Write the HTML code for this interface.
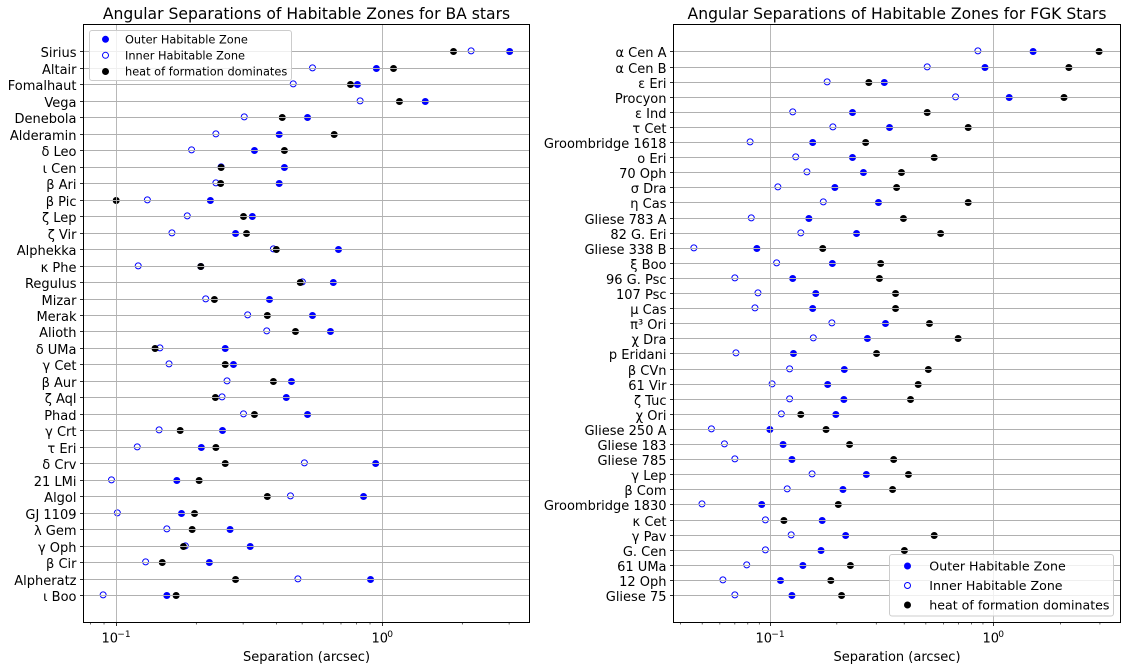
<!DOCTYPE html>
<html lang="en">
<head>
<meta charset="utf-8">
<title>Angular Separations of Habitable Zones</title>
<style>
html,body{margin:0;padding:0;background:#fff;width:1126px;height:670px;overflow:hidden}
svg{display:block}
text{font-family:"DejaVu Sans","Liberation Sans","Noto Sans CJK SC",sans-serif;fill:#000}
</style>
</head>
<body>
<svg id="fig" xmlns="http://www.w3.org/2000/svg" width="1126" height="670" viewBox="0 0 1126 670">
<rect width="1126" height="670" fill="#fff"/>
<g id="panelA"></g>
<g id="panelB"></g>
</svg>
<script>
const baStars = ["Sirius","Altair","Fomalhaut","Vega","Denebola","Alderamin","δ Leo","ι Cen","β Ari","β Pic","ζ Lep","ζ Vir","Alphekka","κ Phe","Regulus","Mizar","Merak","Alioth","δ UMa","γ Cet","β Aur","ζ Aql","Phad","γ Crt","τ Eri","δ Crv","21 LMi","Algol","GJ 1109","λ Gem","γ Oph","β Cir","Alpheratz","ι Boo"];
const baOuter = [3.015,0.951,0.807,1.452,0.524,0.410,0.331,0.429,0.410,0.226,0.325,0.281,0.685,0.208,0.655,0.377,0.547,0.639,0.257,0.276,0.456,0.436,0.524,0.251,0.209,0.945,0.169,0.851,0.176,0.268,0.319,0.224,0.904,0.155];
const baInner = [2.159,0.547,0.463,0.826,0.303,0.237,0.192,0.248,0.237,0.131,0.185,0.162,0.390,0.121,0.501,0.217,0.312,0.368,0.146,0.158,0.261,0.250,0.301,0.145,0.120,0.510,0.096,0.452,0.101,0.155,0.182,0.129,0.482,0.0893];
const baHeat = [1.854,1.103,0.760,1.161,0.421,0.660,0.429,0.248,0.247,0.100,0.301,0.309,0.400,0.208,0.492,0.234,0.370,0.472,0.140,0.257,0.390,0.236,0.331,0.174,0.237,0.257,0.205,0.370,0.197,0.193,0.179,0.149,0.281,0.168];

const fgkStars = ["α Cen A","α Cen B","ε Eri","Procyon","ε Ind","τ Cet","Groombridge 1618","ο Eri","70 Oph","σ Dra","η Cas","Gliese 783 A","82 G. Eri","Gliese 338 B","ξ Boo","96 G. Psc","107 Psc","μ Cas","π³ Ori","χ Dra","p Eridani","β CVn","61 Vir","ζ Tuc","χ Ori","Gliese 250 A","Gliese 183","Gliese 785","γ Lep","β Com","Groombridge 1830","κ Cet","γ Pav","G. Cen","61 UMa","12 Oph","Gliese 75"];
const fgkOuter = [1.508,0.919,0.326,1.179,0.235,0.344,0.156,0.235,0.263,0.196,0.307,0.150,0.245,0.0878,0.191,0.127,0.161,0.156,0.330,0.274,0.128,0.216,0.182,0.215,0.198,0.1004,0.115,0.126,0.271,0.213,0.0923,0.172,0.219,0.170,0.141,0.112,0.126];
const fgkInner = [0.854,0.507,0.181,0.679,0.127,0.192,0.0819,0.131,0.147,0.109,0.174,0.0829,0.138,0.0459,0.1076,0.0700,0.0888,0.0861,0.190,0.157,0.0708,0.123,0.1027,0.123,0.113,0.0550,0.0629,0.0700,0.155,0.120,0.0499,0.0959,0.125,0.0959,0.0791,0.0619,0.0700];
const fgkHeat = [2.974,2.179,0.278,2.073,0.507,0.773,0.269,0.545,0.389,0.370,0.773,0.397,0.582,0.173,0.314,0.310,0.366,0.366,0.519,0.697,0.301,0.513,0.462,0.427,0.138,0.179,0.228,0.359,0.418,0.355,0.203,0.116,0.545,0.401,0.230,0.188,0.210];

const seriesLabels = ["Outer Habitable Zone","Inner Habitable Zone","heat of formation dominates"];
const majorTickExponents = [-1,0];
const minorTickMultipliers = [2,3,4,5,6,7,8,9];
const minorTickDecades = [0.01,0.1,1];
const xAxisLabel = "Separation (arcsec)";
const titleA = "Angular Separations of Habitable Zones for BA stars";
const titleB = "Angular Separations of Habitable Zones for FGK Stars";

const NS = "http://www.w3.org/2000/svg";
const AX_TOP = 24.5, AX_BOTTOM = 622.5, FIRST_ROW = 51.9, LAST_ROW = 595.6;

function mk(parent, tag, attrs, text) {
  const el = document.createElementNS(NS, tag);
  for (const k in attrs) el.setAttribute(k, attrs[k]);
  if (text !== undefined) el.textContent = text;
  parent.appendChild(el);
  return el;
}

function drawMarker(parent, x, y, kind, name) {
  const props = kind === "outer" ? {fill:"#0000ff", stroke:"#0000ff"}
              : kind === "inner" ? {fill:"none", stroke:"#0000ff"}
              : {fill:"#000", stroke:"#000"};
  const el = mk(parent, "circle", {cx:x, cy:y, r:3, "stroke-width":1, fill:props.fill, stroke:props.stroke});
  
  
  return el;
}

function drawPanel(group, cfg) {
  const xs = v => cfg.x01 + (Math.log10(v) + 1) * cfg.decade;
  const ys = i => Math.floor(FIRST_ROW + (LAST_ROW - FIRST_ROW) * i / (cfg.stars.length - 1)) + 0.5;

  const marks = mk(group, "g", {});
  
  
  const series = [["outer",cfg.outer,0],["inner",cfg.inner,-0.6],["heat",cfg.heat,0]];
  series.forEach(s => {
    s[1].forEach((v,i) => {
      drawMarker(marks, xs(v).toFixed(2), ys(i)+s[2], s[0], s[0] + '-point');
    });
  });

  const grid = mk(group, "g", {stroke:"#b0b0b0","stroke-width":0.9,fill:"none"});
  
  
  cfg.stars.forEach((s,i) => {
    const g = mk(grid, "line", {x1:cfg.left, x2:cfg.right, y1:ys(i), y2:ys(i)});
    
    
  });
  majorTickExponents.forEach(e => {
    const x = Math.round(xs(Math.pow(10,e))) + 0.5;
    const g = mk(grid, "line", {x1:x, x2:x, y1:AX_TOP, y2:AX_BOTTOM});
    
    
  });

  const yTicks = mk(group, "g", {});
  
  
  cfg.stars.forEach((s,i) => {
    const t = mk(yTicks, "line", {x1:cfg.left-3.5, x2:cfg.left, y1:ys(i), y2:ys(i), stroke:"#000","stroke-width":0.8});
    
    
    const l = mk(yTicks, "text", {x:cfg.left-7, y:ys(i)+5.5, "text-anchor":"end","font-size":13}, s);
    
    
  });

  const xTicks = mk(group, "g", {});
  
  
  minorTickDecades.forEach(d => {
    minorTickMultipliers.forEach(m => {
      const x = xs(d*m);
      if (x > cfg.left && x < cfg.right) {
        const t = mk(xTicks, "line", {x1:x, x2:x, y1:AX_BOTTOM, y2:AX_BOTTOM+2, stroke:"#000","stroke-width":0.6});
        
        
      }
    });
  });
  majorTickExponents.forEach(e => {
    const x = Math.round(xs(Math.pow(10,e))) + 0.5;
    const t = mk(xTicks, "line", {x1:x, x2:x, y1:AX_BOTTOM, y2:AX_BOTTOM+3.5, stroke:"#000","stroke-width":0.8});
    
    
    const exp = e < 0 ? "−" + (-e) : String(e);
    const w = e < 0 ? 30 : 22;
    const base = mk(xTicks, "text", {x:x-w/2, y:642.5, "font-size":13}, "10");
    
    
    const sup = mk(xTicks, "text", {x:x-w/2+15.8, y:637, "font-size":9.1}, exp);
    
    
  });

  const frame = mk(group, "rect", {x:cfg.left, y:AX_TOP, width:cfg.right-cfg.left, height:AX_BOTTOM-AX_TOP, fill:"none", stroke:"#000","stroke-width":1});
  
  

  const title = mk(group, "text", {x:(cfg.left+cfg.right)/2, y:19, "text-anchor":"middle","font-size":cfg.titleSize}, cfg.title);
  
  

  const xl = mk(group, "text", {x:(cfg.left+cfg.right)/2, y:661, "text-anchor":"middle","font-size":13}, xAxisLabel);
  
  

  const lg = cfg.legend;
  const legend = mk(group, "g", {});
  
  
  const box = mk(legend, "rect", {x:lg.x, y:lg.y, width:lg.w, height:lg.h, rx:2.5, ry:2.5, fill:"#fff","fill-opacity":0.8, stroke:"#ccc","stroke-width":1});
  
  
  ["outer","inner","heat"].forEach((k,i) => {
    drawMarker(legend, lg.mx, lg.my[i], k, 'legend-marker');
    const t = mk(legend, "text", {x:lg.tx, y:lg.my[i]+lg.dy, "font-size":lg.font, fill:"#000"}, seriesLabels[i]);
    
    
  });
}

drawPanel(document.getElementById("panelA"), {
  stars:baStars, outer:baOuter, inner:baInner, heat:baHeat, title:titleA, titleSize:15.6,
  left:83.5, right:529.5, x01:116.2, decade:266,
  legend:{x:89.5,y:30.5,w:202,h:50,mx:105.5,my:[39.3,55.3,71.5],tx:125,dy:4.1,font:11.35}
});
drawPanel(document.getElementById("panelB"), {
  stars:fgkStars, outer:fgkOuter, inner:fgkInner, heat:fgkHeat, title:titleB, titleSize:15.6,
  left:673.5, right:1120.5, x01:769.5, decade:223.7,
  legend:{x:889.5,y:554.5,w:224,h:61.5,mx:907.5,my:[566,585.5,605],tx:929.3,dy:4.6,font:12.6}
});
</script>
</body>
</html>
